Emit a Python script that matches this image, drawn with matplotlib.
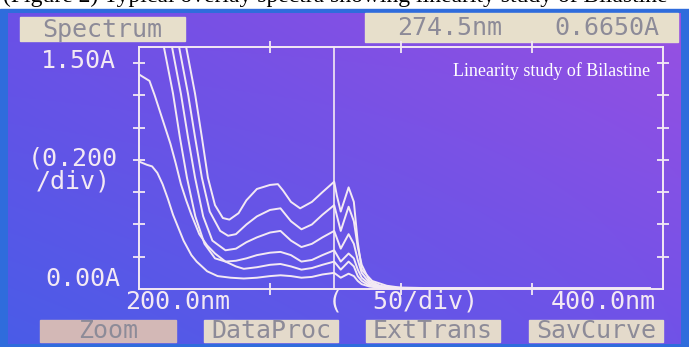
import numpy as np
import matplotlib
matplotlib.use('Agg')
import matplotlib.pyplot as plt
from matplotlib.patches import Rectangle

# absorbance spectra (nm, A), lowest to highest conc.
wl_1 = [200, 203, 205, 207, 209, 211, 213, 215, 217, 220, 222, 226, 230, 235, 240, 245, 250, 254, 258, 262,
        266, 270, 274.5, 277, 280, 282, 283.5, 285, 288, 292, 298, 320, 360, 395]
abs_1 = [0.79, 0.77, 0.76, 0.72, 0.65, 0.56, 0.46, 0.38, 0.30, 0.21, 0.17, 0.11, 0.08, 0.07, 0.065, 0.07, 0.08,
         0.085, 0.08, 0.07, 0.075, 0.09, 0.10, 0.07, 0.095, 0.08, 0.05, 0.03, 0.015, 0.008, 0.005, 0.003, 0.003, 0.003]

wl_2 = [200, 204, 206, 208, 210, 212, 214, 216, 218, 220, 223, 226, 229, 233, 237, 240, 245, 250, 254, 258, 262,
        266, 270, 274.5, 277, 280, 282, 283.5, 285, 288, 292, 298, 320, 360, 395]
abs_2 = [1.33, 1.29, 1.20, 1.10, 1.00, 0.90, 0.78, 0.65, 0.55, 0.46, 0.34, 0.27, 0.22, 0.17, 0.14, 0.125, 0.135,
         0.15, 0.155, 0.14, 0.12, 0.13, 0.15, 0.17, 0.12, 0.17, 0.14, 0.08, 0.05, 0.02, 0.01, 0.006, 0.004, 0.003, 0.003]

wl_3 = [200, 209.5, 213, 215.6, 218.3, 221.5, 225, 229, 233, 237, 241, 245, 250, 254, 258, 262, 266, 270, 274.5,
        277, 280, 282, 283.5, 285, 288, 292, 298, 320, 360, 395]
abs_3 = [2.8, 1.50, 1.21, 0.94, 0.69, 0.45, 0.28, 0.19, 0.17, 0.175, 0.19, 0.21, 0.225, 0.23, 0.21, 0.17, 0.18,
         0.21, 0.24, 0.17, 0.22, 0.19, 0.12, 0.07, 0.03, 0.012, 0.006, 0.004, 0.003, 0.003]

wl_4 = [200, 212.6, 216, 218.7, 221.4, 224.5, 228, 233, 237, 241, 245, 250, 254, 258, 262, 266, 270, 274.5,
        277, 280, 282, 283.5, 285, 288, 292, 298, 320, 360, 395]
abs_4 = [3.0, 1.50, 1.21, 0.94, 0.69, 0.45, 0.30, 0.24, 0.25, 0.29, 0.32, 0.35, 0.36, 0.30, 0.26, 0.28, 0.32,
         0.36, 0.25, 0.34, 0.28, 0.18, 0.10, 0.04, 0.015, 0.007, 0.004, 0.003, 0.003]

wl_5 = [200, 215.3, 218.7, 221.4, 224, 227, 231, 234, 237, 241, 245, 250, 254, 258, 262, 266, 270, 274.5,
        277, 280, 282, 283.5, 285, 288, 292, 298, 320, 360, 395]
abs_5 = [3.2, 1.50, 1.21, 0.94, 0.69, 0.48, 0.36, 0.33, 0.34, 0.40, 0.45, 0.49, 0.50, 0.42, 0.37, 0.40, 0.46,
         0.52, 0.36, 0.51, 0.42, 0.26, 0.15, 0.05, 0.02, 0.008, 0.004, 0.003, 0.003]

wl_6 = [200, 218, 221.4, 224, 226.3, 229, 232, 234.5, 238, 241, 245, 250, 253, 255, 258, 261.5, 266, 270, 274.5,
        275.5, 277, 280, 282, 283.5, 285, 289, 294.6, 300, 320, 360, 395]
abs_6 = [3.4, 1.50, 1.21, 0.94, 0.69, 0.52, 0.44, 0.43, 0.47, 0.55, 0.62, 0.645, 0.65, 0.61, 0.54, 0.50, 0.54,
         0.60, 0.665, 0.58, 0.48, 0.63, 0.54, 0.29, 0.12, 0.05, 0.02, 0.008, 0.004, 0.003, 0.003]

spectra = [(wl_1, abs_1), (wl_2, abs_2), (wl_3, abs_3), (wl_4, abs_4), (wl_5, abs_5), (wl_6, abs_6)]

cursor_nm = 274.5
cursor_abs = 0.6650
x_ticks = [250, 300, 350]
y_ticks = [0.2, 0.4, 0.6, 0.8, 1.0, 1.2, 1.4]
buttons = ['Zoom', 'DataProc', 'ExtTrans', 'SavCurve']

W, H = 689, 347
fig = plt.figure(figsize=(W / 100, H / 100), dpi=100)

# background layer in pixel coordinates
bg = fig.add_axes([0, 0, 1, 1])
bg.axis('off')

# caption line of the page, cut by the photo's top edge
bg.text(3, 1.5, '(Figure 2) Typical overlay spectra showing linearity study of Bilastine',
        fontsize=17, family='Liberation Serif', color='black', va='baseline', zorder=0.5)
bg.add_patch(Rectangle((0, 9), W, H - 9, color='#2f6cdc', zorder=1))

# purple screen gradient
gy, gx = np.mgrid[0:1:120j, 0:1:240j]
tl = np.array([108, 80, 230]) / 255
tr = np.array([152, 80, 226]) / 255
bl = np.array([74, 92, 232]) / 255
br = np.array([112, 82, 232]) / 255
grad = ((1 - gx) * (1 - gy))[..., None] * tl + (gx * (1 - gy))[..., None] * tr \
    + ((1 - gx) * gy)[..., None] * bl + (gx * gy)[..., None] * br
bg.imshow(grad, extent=(8, 681, 344, 13), aspect='auto', zorder=2, interpolation='bilinear')
bg.set_xlim(0, W)
bg.set_ylim(H, 0)

lcd = dict(family='DejaVu Sans Mono', fontsize=18, zorder=5)
white = '#f3e9f4'
box_text = '#8d8b98'

# title boxes
bg.add_patch(Rectangle((20, 17), 165, 24, color='#e7dfcb', zorder=4))
bg.text(102, 29.5, 'Spectrum', ha='center', va='center', color=box_text, **lcd)
bg.add_patch(Rectangle((365, 13), 313, 29, color='#e7dfcb', zorder=4))
bg.text(450, 28, '%.1fnm' % cursor_nm, ha='center', va='center', color=box_text, **lcd)
bg.text(607, 28, '%.4fA' % cursor_abs, ha='center', va='center', color=box_text, **lcd)

# axis labels drawn as screen text
bg.text(78, 61, '1.50A', ha='center', va='center', color=white, **lcd)
bg.text(73, 158, '(0.200', ha='center', va='center', color=white, **lcd)
bg.text(73, 181, '/div)', ha='center', va='center', color=white, **lcd)
bg.text(83, 279, '0.00A', ha='center', va='center', color=white, **lcd)
bg.text(178, 302, '200.0nm', ha='center', va='center', color=white, **lcd)
bg.text(403, 302, '(  50/div)', ha='center', va='center', color=white, **lcd)
bg.text(603, 302, '400.0nm', ha='center', va='center', color=white, **lcd)

# soft keys
key_x = [40, 204, 366, 529]
key_w = [136, 134, 134, 134]
for i, lab in enumerate(buttons):
    col = '#d3b8b6' if i == 0 else '#e4dacb'
    bg.add_patch(Rectangle((key_x[i], 320), key_w[i], 22, color=col, zorder=4))
    bg.text(key_x[i] + key_w[i] / 2, 331, lab, ha='center', va='center', color=box_text, **lcd)

# spectrum plot
ax = fig.add_axes([139 / W, 1 - 289 / H, (663 - 139) / W, (289 - 47) / H])
ax.patch.set_alpha(0)
for wl, a in spectra:
    ax.plot(wl, a, color=white, lw=1.4)
ax.axvline(cursor_nm, color=white, lw=1.2)
ax.set_xlim(200, 400)
ax.set_ylim(0, 1.5)
ax.set_xticks(x_ticks)
ax.set_yticks(y_ticks)
ax.tick_params(direction='inout', length=8, width=1.3, color=white,
               top=True, right=True, labelbottom=False, labelleft=False)
for s in ax.spines.values():
    s.set_color(white)
    s.set_linewidth(1.4)

ax.text(0.975, 0.9, 'Linearity study of Bilastine', transform=ax.transAxes, ha='right', va='center',
        family='Liberation Serif', fontsize=13, color='white')

fig.savefig('out.png', dpi=100)
